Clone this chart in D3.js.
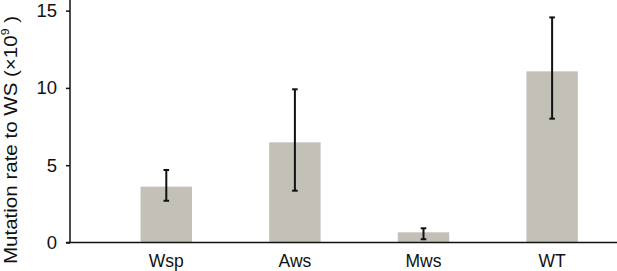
<!DOCTYPE html>
<html><head><meta charset="utf-8">
<script src="https://cdn.jsdelivr.net/npm/d3@7"></script>
<style>body{margin:0;background:#fff;} svg{display:block;}</style>
</head><body>
<svg id="c" width="617" height="271"></svg>
<script>
const categories = ["Wsp", "Aws", "Mws", "WT"];
const values = [3.61, 6.48, 0.66, 11.07];
const errLow = [2.70, 3.35, 0.21, 8.01];
const errHigh = [4.69, 9.91, 0.92, 14.56];
const yTicks = [0, 5, 10, 15];

const svg = d3.select("#c");
const font = "'Liberation Sans', Arial, Helvetica, sans-serif";
const x = d3.scaleBand().domain(categories).range([102, 616.4]).paddingInner(0.6).paddingOuter(0.3);
const y = d3.scaleLinear().domain([0, 15]).range([242.5, 10.6]);

// bars
svg.selectAll("rect.bar").data(categories).enter().append("rect")
  .attr("x", d => x(d)).attr("width", x.bandwidth())
  .attr("y", (d,i) => y(values[i])).attr("height", (d,i) => y(0) - y(values[i]))
  .attr("fill", "#c3c0b8");

// error bars
const eb = svg.selectAll("g.err").data(categories).enter().append("g").attr("stroke", "#111").attr("stroke-width", 2);
eb.append("line").attr("x1", d => x(d) + x.bandwidth()/2).attr("x2", d => x(d) + x.bandwidth()/2)
  .attr("y1", (d,i) => y(errLow[i])).attr("y2", (d,i) => y(errHigh[i]));
eb.append("line").attr("x1", d => x(d) + x.bandwidth()/2 - 2.8).attr("x2", d => x(d) + x.bandwidth()/2 + 2.8)
  .attr("y1", (d,i) => y(errLow[i])).attr("y2", (d,i) => y(errLow[i]));
eb.append("line").attr("x1", d => x(d) + x.bandwidth()/2 - 2.8).attr("x2", d => x(d) + x.bandwidth()/2 + 2.8)
  .attr("y1", (d,i) => y(errHigh[i])).attr("y2", (d,i) => y(errHigh[i]));

// y axis
const ya = svg.append("g").attr("transform", "translate(70,0)")
  .call(d3.axisLeft(y).tickValues(yTicks).tickSize(4).tickPadding(9).tickSizeOuter(0));
ya.select(".domain").remove();
ya.selectAll(".tick line").attr("stroke", "#111").attr("stroke-width", 1.5);
ya.selectAll(".tick text").attr("font-family", font).attr("font-size", 18.5).attr("fill", "#111");
svg.append("line").attr("x1", 70).attr("x2", 70).attr("y1", 0).attr("y2", y(0)).attr("stroke", "#111").attr("stroke-width", 1.5);

// x axis
const xa = svg.append("g").attr("transform", `translate(0,${y(0)})`)
  .call(d3.axisBottom(x).tickSize(0).tickPadding(12.5));
xa.select(".domain").remove();
xa.selectAll(".tick text").attr("font-family", font).attr("font-size", 17.5).attr("fill", "#111");
svg.append("line").attr("x1", 66).attr("x2", 617).attr("y1", y(0)).attr("y2", y(0)).attr("stroke", "#111").attr("stroke-width", 1.5);

// y label
const yl = svg.append("text").attr("transform", "translate(17,140) rotate(-90)")
  .attr("text-anchor", "middle").attr("font-family", font).attr("font-size", 18.5).attr("fill", "#111")
  .attr("textLength", 248).attr("lengthAdjust", "spacingAndGlyphs");
yl.append("tspan").text("Mutation rate to WS (×10");
yl.append("tspan").attr("dy", -8).attr("font-size", 11).text("9");
yl.append("tspan").attr("dy", 8).text(" )");
</script>
</body></html>
